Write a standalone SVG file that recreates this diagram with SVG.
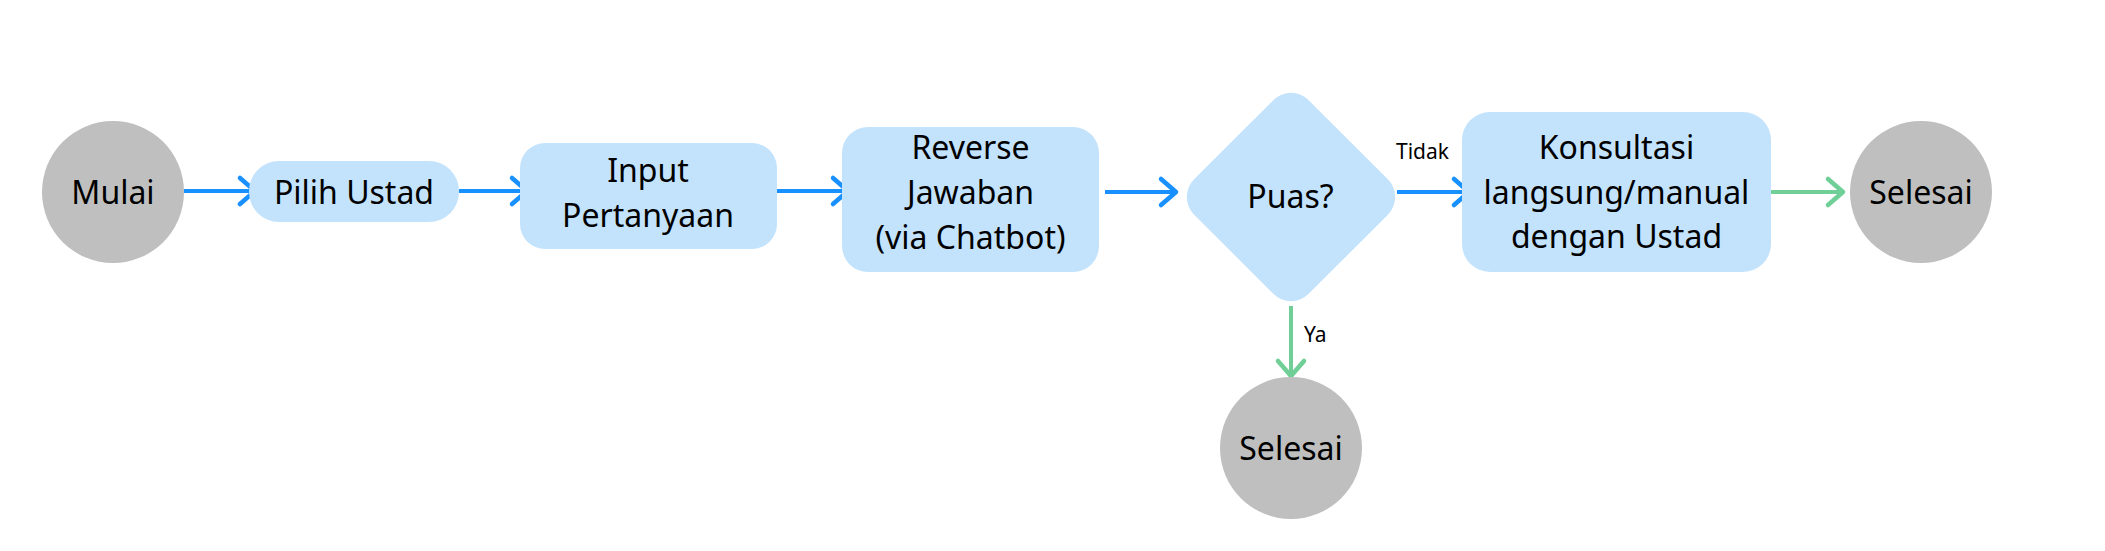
<svg xmlns="http://www.w3.org/2000/svg" width="2105" height="551" viewBox="0 0 2105 551">
<style>
  .term { fill: #bfbfbf; }
  .box { fill: #c3e3fd; }
  .t { font-family: "Noto Sans", "Open Sans", sans-serif; font-size: 32px; fill: #000; text-anchor: middle; }
  .lbl { font-family: "Noto Sans", "Open Sans", sans-serif; font-size: 21px; fill: #000; }
  .eb { stroke: #1890ff; stroke-width: 4; fill: none; }
  .eg { stroke: #6fcf97; stroke-width: 4; fill: none; }
</style>
<defs>
  <marker id="ab" viewBox="-20 -18 24 36" markerWidth="24" markerHeight="36" refX="0" refY="0" orient="auto" markerUnits="userSpaceOnUse">
    <path d="M-15,-13 L0,0 L-15,13" fill="none" stroke="#1890ff" stroke-width="4.5" stroke-linecap="round" stroke-linejoin="round"/>
  </marker>
  <marker id="ag" viewBox="-20 -18 24 36" markerWidth="24" markerHeight="36" refX="0" refY="0" orient="auto" markerUnits="userSpaceOnUse">
    <path d="M-15,-13 L0,0 L-15,13" fill="none" stroke="#6fcf97" stroke-width="4.5" stroke-linecap="round" stroke-linejoin="round"/>
  </marker>
</defs>
<rect width="2105" height="551" fill="#ffffff"/>
<g id="connectors">
  <path class="eb" d="M184,191 L255,191" marker-end="url(#ab)"/>
  <path class="eb" d="M459,191 L527,191" marker-end="url(#ab)"/>
  <path class="eb" d="M777,191 L848,191" marker-end="url(#ab)"/>
  <path class="eb" d="M1105,192 L1176,192" marker-end="url(#ab)"/>
  <path class="eb" d="M1397,192 L1469,192" marker-end="url(#ab)"/>
  <path class="eg" d="M1771,192 L1843,192" marker-end="url(#ag)"/>
  <path class="eg" d="M1291,306 L1291,376" marker-end="url(#ag)"/>
  <text class="lbl" x="1396" y="159">Tidak</text>
  <text class="lbl" x="1304" y="342">Ya</text>
</g>
<g id="mulai">
  <circle class="term" cx="113" cy="192" r="71"/>
  <text class="t" x="113" y="204">Mulai</text>
</g>
<g id="pilih-ustad">
  <rect class="box" x="249" y="161" width="210" height="61" rx="30"/>
  <text class="t" x="354" y="204">Pilih Ustad</text>
</g>
<g id="input-pertanyaan">
  <rect class="box" x="520" y="143" width="257" height="106" rx="25"/>
  <text class="t" x="648" y="182">Input</text>
  <text class="t" x="648" y="227">Pertanyaan</text>
</g>
<g id="reverse-jawaban">
  <rect class="box" x="842" y="127" width="257" height="145" rx="26"/>
  <text class="t" x="970.5" y="159">Reverse</text>
  <text class="t" x="970.5" y="204">Jawaban</text>
  <text class="t" x="970.5" y="249">(via Chatbot)</text>
</g>
<g id="puas">
  <rect class="box" x="-81" y="-81" width="162" height="162" rx="25" transform="translate(1291,197) rotate(45)"/>
  <text class="t" x="1290.5" y="208">Puas?</text>
</g>
<g id="konsultasi">
  <rect class="box" x="1462" y="112" width="309" height="160" rx="28"/>
  <text class="t" x="1616.5" y="159">Konsultasi</text>
  <text class="t" x="1616.5" y="203.5">langsung/manual</text>
  <text class="t" x="1616.5" y="248">dengan Ustad</text>
</g>
<g id="selesai-1">
  <circle class="term" cx="1921" cy="192" r="71"/>
  <text class="t" x="1921" y="203.5">Selesai</text>
</g>
<g id="selesai-2">
  <circle class="term" cx="1291" cy="448" r="71"/>
  <text class="t" x="1291" y="460">Selesai</text>
</g>
</svg>
